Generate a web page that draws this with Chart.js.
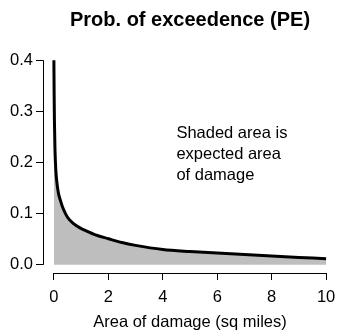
<!DOCTYPE html>
<html>
<head>
<meta charset="utf-8">
<script src="https://cdn.jsdelivr.net/npm/chart.js@4.4.1/dist/chart.umd.min.js"></script>
<style>
  html, body { margin: 0; padding: 0; background: #fff; }
  canvas { display: block; }
</style>
</head>
<body>
<canvas id="pe-chart" width="337" height="332"></canvas>
<script>
// values
const damageArea = [0, 0.01, 0.02, 0.04, 0.07, 0.1, 0.16, 0.25, 0.34, 0.5, 0.71, 1, 1.2, 1.5, 2, 2.5, 3, 4, 5, 6, 7, 8, 9, 10];
const exceedProb = [0.4, 0.33, 0.28, 0.225, 0.186, 0.166, 0.142, 0.124, 0.11, 0.093, 0.081, 0.071, 0.066, 0.059, 0.051, 0.0435, 0.038, 0.03, 0.026, 0.023, 0.02, 0.017, 0.0145, 0.012];
const xTicks = [0, 2, 4, 6, 8, 10];
const yTicks = [0, 0.1, 0.2, 0.3, 0.4];
const noteLines = ["Shaded area is", "expected area", "of damage"];

const FONT = "'Liberation Sans', Arial, Helvetica, sans-serif";
Chart.defaults.font.family = FONT;
Chart.defaults.font.size = 16.5;
Chart.defaults.color = "#000";

// R style axes: line only from first to last tick, plus the text note
const baseAxes = {
    id: "baseAxes",
    afterDraw(chart) {
        const ctx = chart.ctx;
        const x = chart.scales.x, y = chart.scales.y;
        const area = chart.chartArea;
        ctx.save();
        ctx.strokeStyle = "#000";
        ctx.lineWidth = 1;
        ctx.beginPath();
        ctx.moveTo(x.getPixelForValue(xTicks[0]), area.bottom + 0.5);
        ctx.lineTo(x.getPixelForValue(xTicks[xTicks.length - 1]), area.bottom + 0.5);
        ctx.moveTo(area.left + 0.5, y.getPixelForValue(yTicks[0]));
        ctx.lineTo(area.left + 0.5, y.getPixelForValue(yTicks[yTicks.length - 1]));
        ctx.stroke();

        ctx.fillStyle = "#000";
        ctx.font = "16.5px " + FONT;
        ctx.textAlign = "left";
        ctx.textBaseline = "middle";
        const nx = x.getPixelForValue(4.5);
        const ny = y.getPixelForValue(0.216);
        noteLines.forEach(function (line, i) {
            ctx.fillText(line, nx, ny + (i - 1) * 21);
        });
        ctx.restore();
    }
};

new Chart(document.getElementById("pe-chart").getContext("2d"), {
    type: "line",
    data: {
        datasets: [{
            data: damageArea.map(function (a, i) { return { x: a, y: exceedProb[i] }; }),
            borderColor: "#000",
            borderWidth: 3,
            backgroundColor: "#BEBEBE",
            fill: "origin",
            pointRadius: 0,
            cubicInterpolationMode: "monotone"
        }]
    },
    options: {
        responsive: false,
        animation: false,
        layout: { padding: 0 },
        plugins: {
            legend: { display: false },
            tooltip: { enabled: false },
            title: {
                display: true,
                text: "Prob. of exceedence (PE)",
                fullSize: false,
                font: { size: 20, weight: "bold" },
                color: "#000",
                padding: { top: 8, bottom: 20 }
            }
        },
        scales: {
            x: {
                type: "linear",
                min: -0.4,
                max: 10.4,
                afterBuildTicks: function (scale) {
                    scale.ticks = xTicks.map(function (v) { return { value: v }; });
                },
                afterFit: function (scale) {
                    scale.height = 59;
                    scale.paddingLeft = 0;
                    scale.paddingRight = 0;
                },
                ticks: {
                    padding: 8,
                    maxRotation: 0,
                    autoSkip: false,
                    callback: function (v) { return String(v); }
                },
                grid: { drawOnChartArea: false, drawTicks: true, tickLength: 7, color: "#000" },
                border: { display: false },
                title: {
                    display: true,
                    text: "Area of damage (sq miles)",
                    font: { size: 16.5, lineHeight: 1 },
                    padding: { top: 0, bottom: 1 }
                }
            },
            y: {
                type: "linear",
                min: -0.016,
                max: 0.416,
                afterBuildTicks: function (scale) {
                    scale.ticks = yTicks.map(function (v) { return { value: v }; });
                },
                afterFit: function (scale) {
                    scale.width = 43;
                    scale.paddingTop = 0;
                    scale.paddingBottom = 0;
                },
                ticks: {
                    padding: 3,
                    autoSkip: false,
                    callback: function (v) { return v.toFixed(1); }
                },
                grid: { drawOnChartArea: false, drawTicks: true, tickLength: 7, color: "#000" },
                border: { display: false }
            }
        }
    },
    plugins: [baseAxes]
});
</script>
</body>
</html>
